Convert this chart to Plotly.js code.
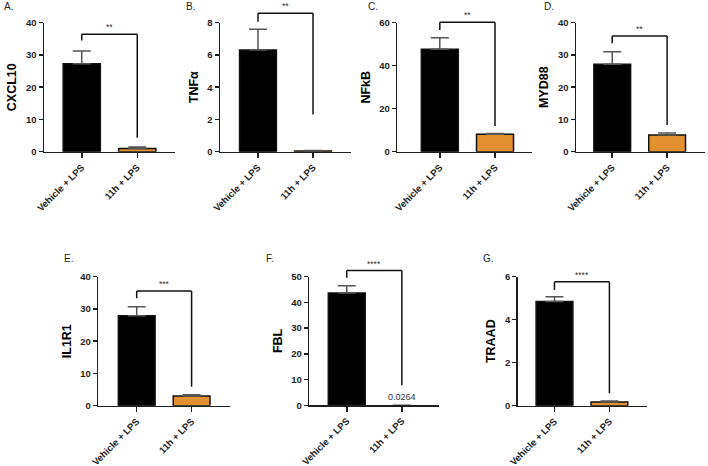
<!DOCTYPE html>
<html><head><meta charset="utf-8">
<script src="https://cdn.plot.ly/plotly-3.0.1.min.js"></script>
<style>body{margin:0;background:#fff}#chart{width:708px;height:466px}</style>
</head><body><div id="chart"></div>
<script>
// ---- data ----
const panelLabels = ['A.', 'B.', 'C.', 'D.', 'E.', 'F.', 'G.'];
const genes = ['CXCL10', 'TNFα', 'NFkB', 'MYD88', 'IL1R1', 'FBL', 'TRAAD'];
const categories = ['Vehicle + LPS', '11h + LPS'];
const vehicleMean = [27.3, 6.3, 47.6, 27.1, 27.9, 43.6, 4.85];
const vehicleErr  = [3.9, 1.3, 5.4, 3.9, 2.8, 2.8, 0.22];
const treatedMean = [1.0, 0.05, 8.1, 5.2, 3.0, 0.0264, 0.17];
const treatedErr  = [0.45, 0.03, 0.4, 0.6, 0.4, 0, 0.05];
const yMax  = [40, 8, 60, 40, 40, 50, 6];
const yDtick = [10, 2, 20, 10, 10, 10, 2];
const significance = ['**', '**', '**', '**', '***', '****', '****'];
const bracketTop   = [36.4, 8.58, 60.2, 35.9, 35.6, 52.3, 5.77];
const bracketLeft  = [34.5, 8.06, 56.6, 33.6, 33.3, 49.5, 5.38];
const bracketRight = [4.3, 2.3, 12, 8.3, 5.9, 7.75, 0.58];
const valueLabel = [null, null, null, null, null, '0.0264', null];

// ---- layout geometry ----
const W = 708, H = 466;
const axisLeftPx  = [44, 220, 397.3, 576, 98.3, 309.3, 517.7];
const axisRightPx = [175, 351, 532, 705, 230, 439.3, 647.3];
const axisTopPx   = [22.7, 22.7, 22.7, 22.7, 276.7, 276.5, 276.7];
const axisBotPx   = [151.7, 151.7, 151.7, 151.7, 405.7, 405.3, 405.7];
const xRanges = [[-0.68,1.68],[-0.69,1.69],[-0.77,1.67],[-0.66,1.69],[-0.70,1.70],[-0.68,1.68],[-0.67,1.69]];
const labelPos = [[2,7],[184,7],[366,7],[542,7],[62,258],[264,258],[481,258]];

const ORANGE = 'rgb(226,145,48)';
const FONT = 'Liberation Sans, Arial, sans-serif';
const INK = '#1e1e1e';

const data = [];
const layout = {
  width: W, height: H,
  margin: {l: 0, r: 0, t: 0, b: 0},
  paper_bgcolor: '#fff', plot_bgcolor: '#fff',
  showlegend: false,
  font: {family: FONT, color: INK},
  shapes: [], annotations: []
};

for (let i = 0; i < genes.length; i++) {
  const n = i + 1;
  const xa = 'x' + n, ya = 'y' + n;
  const xk = 'xaxis' + n, yk = 'yaxis' + n;
  const vals = [vehicleMean[i], treatedMean[i]];
  data.push({
    type: 'bar', x: categories, y: vals,
    xaxis: xa, yaxis: ya, width: 0.67,
    marker: {color: ['#000000', ORANGE],
      line: {color: '#111', width: vals.map(v => v / yMax[i] < 0.005 ? 0 : 1.5)}},
    error_y: {type: 'data', symmetric: false, array: [vehicleErr[i], treatedErr[i]],
      arrayminus: [0, 0], color: '#555', thickness: 1.5, width: 9},
    hoverinfo: 'skip'
  });
  layout[xk] = {
    domain: [axisLeftPx[i] / W, axisRightPx[i] / W], anchor: ya,
    type: 'category', range: xRanges[i],
    showline: true, linewidth: 1.5, linecolor: INK,
    ticks: 'outside', ticklen: 5, tickwidth: 1.5, tickcolor: INK,
    tickangle: -45, showgrid: false, zeroline: false,
    tickfont: {family: FONT, size: 9.5, weight: 'bold', color: INK},
    fixedrange: true
  };
  layout[yk] = {
    domain: [(H - axisBotPx[i]) / H, (H - axisTopPx[i]) / H], anchor: xa,
    range: [0, yMax[i]], dtick: yDtick[i], tick0: 0,
    showline: true, linewidth: 1.5, linecolor: INK,
    ticks: 'outside', ticklen: 4, tickwidth: 1.5, tickcolor: INK,
    showgrid: false, zeroline: false,
    tickfont: {family: FONT, size: 9.5, weight: 'bold', color: INK},
    title: {text: genes[i], standoff: 6, font: {family: FONT, size: 12.5, weight: 'bold', color: '#000'}},
    fixedrange: true
  };
  // significance bracket (heights in data units -> domain fraction)
  const f = v => v / yMax[i];
  const lineStyle = {color: '#111', width: 1.5};
  const yd = ya + ' domain';
  layout.shapes.push(
    {type: 'line', xref: xa, yref: yd, x0: 0, x1: 0, y0: f(bracketLeft[i]), y1: f(bracketTop[i]), line: lineStyle},
    {type: 'line', xref: xa, yref: yd, x0: 0, x1: 1, y0: f(bracketTop[i]), y1: f(bracketTop[i]), line: lineStyle},
    {type: 'line', xref: xa, yref: yd, x0: 1, x1: 1, y0: f(bracketTop[i]), y1: f(bracketRight[i]), line: lineStyle}
  );
  layout.annotations.push({
    xref: xa, yref: yd, x: 0.5, y: f(bracketTop[i]), yanchor: 'bottom', xanchor: 'center',
    text: significance[i], showarrow: false, yshift: 0,
    font: {family: FONT, size: 8.5, color: '#333'}
  });
  layout.annotations.push({
    xref: 'paper', yref: 'paper', x: labelPos[i][0] / W, y: 1 - labelPos[i][1] / H,
    xanchor: 'left', yanchor: 'middle', text: panelLabels[i], showarrow: false,
    font: {family: FONT, size: 10, color: '#222'}
  });
  if (valueLabel[i]) {
    layout.annotations.push({
      xref: xa, yref: ya, x: 1, y: treatedMean[i], yanchor: 'bottom', xanchor: 'center',
      text: valueLabel[i], showarrow: false, yshift: 1,
      font: {family: FONT, size: 9, color: '#333'}
    });
  }
}

Plotly.newPlot('chart', data, layout, {displayModeBar: false, staticPlot: true});
</script>
</body></html>
